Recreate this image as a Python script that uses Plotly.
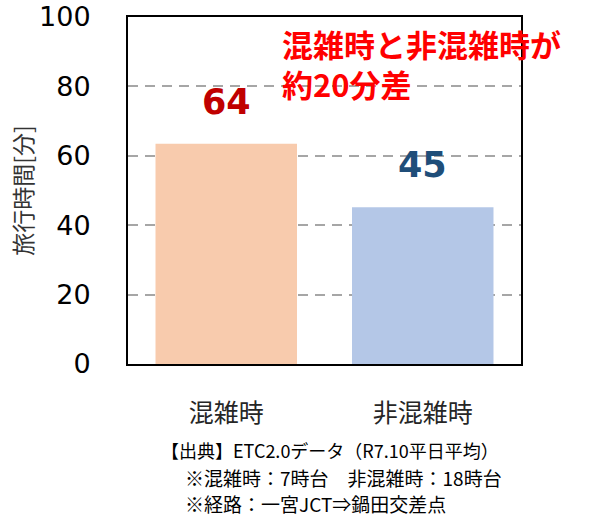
import plotly.graph_objects as go

categories = ["混雑時", "非混雑時"]
travel_time = [63.5, 45.2]
value_labels = ["64", "45"]
bar_colors = ["#F8CBAD", "#B4C7E7"]
label_colors = ["#C00000", "#1F4E79"]
y_ticks = [0, 20, 40, 60, 80, 100]
headline = ["混雑時と非混雑時が", "約20分差"]
notes = ["【出典】ETC2.0データ（R7.10平日平均）",
         "※混雑時：7時台　非混雑時：18時台",
         "※経路：一宮JCT⇒鍋田交差点"]

JP = "Noto Sans CJK JP"
NUM = "DejaVu Sans"

fig = go.Figure(go.Bar(
    x=categories, y=travel_time, marker=dict(color=bar_colors, line=dict(width=0)),
    width=0.72, hoverinfo="skip"))

annotations = []
for c, v, t, col in zip(categories, travel_time, value_labels, label_colors):
    annotations.append(dict(x=c, y=v, xref="x", yref="y", text=f"<b>{t}</b>",
                            showarrow=False, yanchor="middle", yshift=42,
                            font=dict(family=NUM, size=35, color=col)))

annotations.append(dict(x=0.387, y=0.866, xref="paper", yref="paper", xanchor="left",
                        yanchor="middle", align="left",
                        text="<b>" + "<br>".join(headline) + "</b>", showarrow=False,
                        font=dict(family=JP, size=31, color="#FF0000")))

note_pos = [(0.078, -0.248), (0.14, -0.3285), (0.14, -0.4006)]
note_sizes = [18, 19, 19]
for t, (nx, ny), fs in zip(notes, note_pos, note_sizes):
    annotations.append(dict(x=nx, y=ny, xref="paper", yref="paper", xanchor="left",
                            yanchor="middle", text=t, showarrow=False,
                            font=dict(family=JP, size=fs, color="#000000")))

# white patch hiding the 80 gridline behind the second headline line
shapes = [dict(type="rect", xref="paper", yref="paper", x0=0.378, x1=0.765,
               y0=0.775, y1=0.85, fillcolor="white", line=dict(width=0),
               layer="between")]

fig.update_layout(
    width=600, height=520,
    margin=dict(l=128, r=79, t=17, b=156),
    paper_bgcolor="white", plot_bgcolor="white",
    showlegend=False,
    annotations=annotations,
    shapes=shapes,
    xaxis=dict(showline=True, linecolor="black", linewidth=2, mirror=True,
               showgrid=False, ticks="", ticklabelstandoff=26, automargin=False,
               tickfont=dict(family=JP, size=25, color="#262626")),
    yaxis=dict(range=[0, 100], tickvals=y_ticks, showline=True, linecolor="black",
               linewidth=2, mirror=True, showgrid=True, gridcolor="#A6A6A6",
               griddash="10px,7px", gridwidth=2, zeroline=False, ticks="",
               ticklabelstandoff=30, automargin=False, ticklabeloverflow="allow",
               tickfont=dict(family=NUM, size=27, color="#000000"),
               title=dict(text="旅行時間[分]", standoff=0,
                          font=dict(family=JP, size=23, color="#333333"))),
)

fig.write_html("out.html", config={"displayModeBar": False},
               post_script="document.body.style.margin='0';document.body.style.overflow='hidden';")
